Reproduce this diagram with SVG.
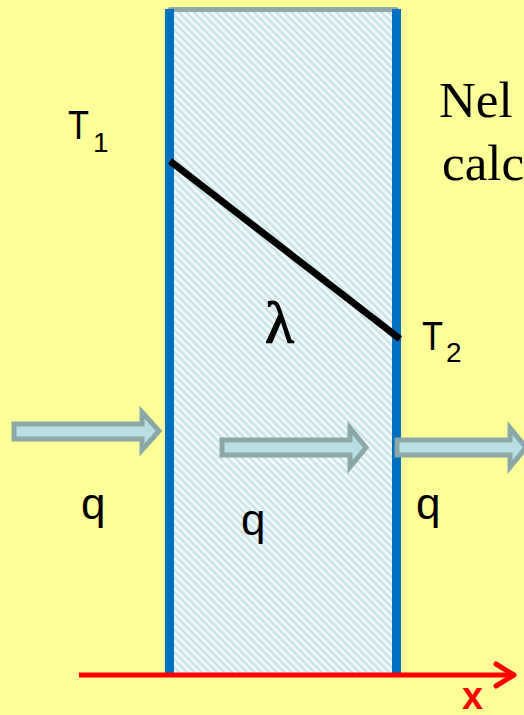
<svg xmlns="http://www.w3.org/2000/svg" width="524" height="715" viewBox="0 0 524 715">
<defs>
<pattern id="hatch" patternUnits="userSpaceOnUse" width="5.3" height="5.3" patternTransform="rotate(-45)">
<rect width="5.3" height="5.3" fill="#f2f9f9"/>
<line x1="1.3" y1="0" x2="1.3" y2="5.3" stroke="#c4e2e8" stroke-width="2.2"/>
</pattern>
<style>
.sans{font-family:"Liberation Sans",Arial,sans-serif;fill:#000}
.serif{font-family:"Liberation Serif","Times New Roman",serif;fill:#000}
.flow{fill:#b8e0e4;stroke:#8aa8a8;stroke-width:5;stroke-linejoin:miter}
.wall{fill:#0070c0}
</style>
</defs>
<rect width="524" height="715" fill="#ffff99"/>
<g id="slab">
<rect x="172" y="11" width="222" height="662" fill="url(#hatch)"/>
<line x1="170" y1="9.5" x2="396" y2="9.5" stroke="#8fabab" stroke-width="5" stroke-linecap="round"/>
<rect class="wall" x="165" y="9" width="9" height="664"/>
<rect class="wall" x="392" y="9" width="9" height="664"/>
</g>
<g id="axis">
<line x1="79" y1="675" x2="513" y2="675" stroke="#ff0000" stroke-width="5"/>
<polyline points="496,664 514,675 496,686" fill="none" stroke="#ff0000" stroke-width="5" stroke-linecap="round" stroke-linejoin="round"/>
<text x="462" y="709" font-family="Liberation Sans,Arial,sans-serif" font-weight="bold" font-size="38" fill="#ff0000">x</text>
</g>
<g id="connectors">
<line id="profile" x1="170" y1="161" x2="400" y2="339" stroke="#000" stroke-width="7"/>
<polygon class="flow" points="14,424 142,424 142,412 159,431 142,450 142,439 14,439"/>
<polygon class="flow" points="222,440 350,440 350,428 366,447.5 350,467 350,455 222,455"/>
<polygon class="flow" points="397,440 510,440 510,428 526,447.5 510,467 510,455 397,455"/>
</g>
<g id="T1"><text class="sans" x="68" y="139" font-size="40" textLength="21" lengthAdjust="spacingAndGlyphs">T</text><text class="sans" x="93" y="152" font-size="28">1</text></g>
<g id="T2"><text class="sans" x="422" y="350" font-size="40" textLength="21" lengthAdjust="spacingAndGlyphs">T</text><text class="sans" x="446" y="362" font-size="28">2</text></g>
<g id="lambda"><text class="serif" x="265" y="343" font-size="60" stroke="#000" stroke-width="1.2">λ</text></g>
<g id="q-left"><text class="sans" x="81" y="519" font-size="44">q</text></g>
<g id="q-mid"><text class="sans" x="241" y="535" font-size="44">q</text></g>
<g id="q-right"><text class="sans" x="416" y="519" font-size="44">q</text></g>
<g id="caption"><text class="serif" x="439" y="117" font-size="51">Nel</text><text class="serif" x="442" y="180" font-size="51">calc</text></g>
</svg>
